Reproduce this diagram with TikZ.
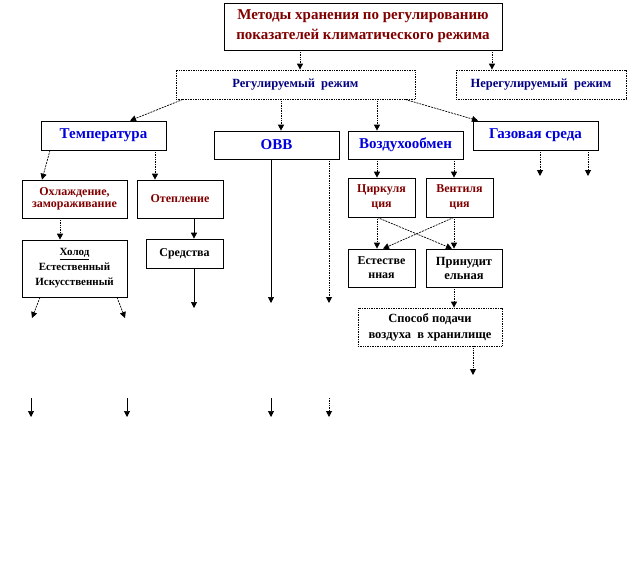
\documentclass[tikz,border=0pt]{standalone}
\usepackage{fontspec}
\setmainfont{Liberation Serif}
\usetikzlibrary{arrows.meta,calc}
\definecolor{dred}{RGB}{128,0,0}
\definecolor{dnavy}{RGB}{0,0,128}
\definecolor{tblue}{RGB}{0,0,220}
\newcommand\bx[7]{\node[box,#6,minimum width={(#4-#2)*1pt},minimum height={(#5-#3)*1pt}] (#1) at ({(#2+#4)/2},{(#3+#5)/2}) {#7};}
\tikzset{
  box/.style={draw,line width=0.7pt,inner sep=0pt,align=center,font=\bfseries\fontsize{12}{15}\selectfont},
  big/.style={font=\bfseries\fontsize{15}{20}\selectfont,text=tblue},
  dbox/.style={densely dotted,line width=0.8pt},
  conn/.style={line width=0.7pt,-{Triangle[length=6pt,width=6pt]}},
  dotc/.style={conn,densely dotted,line width=1pt},
  dashc/.style={conn,dash pattern=on 2pt off 1pt},
  solc/.style={conn}
}
\begin{document}
\begin{tikzpicture}[x=1pt,y=-1pt]
\useasboundingbox (0,0) rectangle (630,565);
\bx{top}{224}{3}{502}{50}{font=\bfseries\fontsize{15}{20}\selectfont,text=dred}{Методы хранения по регулированию\\показателей климатического режима}
\bx{reg}{176}{70}{415}{99}{dbox,text=dnavy,font=\bfseries\fontsize{12.5}{15}\selectfont}{Регулируемый\ \ режим}
\bx{nreg}{456}{70}{626}{99}{dbox,text=dnavy,font=\bfseries\fontsize{12.5}{15}\selectfont}{Нерегулируемый\ \ режим}
\bx{temp}{41}{121}{166}{150}{big}{Температура}
\bx{ovv}{214}{131}{339}{159}{big}{ОВВ}
\bx{vozd}{348}{131}{463}{159}{big}{Воздухообмен}
\bx{gaz}{473}{121}{598}{150}{big}{Газовая среда}
\bx{ohl}{22}{180}{127}{218}{text=dred,font=\bfseries\fontsize{12}{12.5}\selectfont}{Охлаждение,\\замораживание}
\bx{otep}{137}{180}{223}{218}{text=dred}{Отепление}
\bx{holod}{22}{240}{127}{297}{font=\bfseries\fontsize{11}{15}\selectfont}{\underline{Холод}\\Естественный\\Искусственный}
\bx{sred}{146}{239}{223}{268}{}{Средства}
\bx{cirk}{348}{178}{415}{217}{text=dred}{Циркуля\\ция}
\bx{vent}{426}{178}{493}{217}{text=dred}{Вентиля\\ция}
\bx{est}{348}{249}{415}{287}{font=\bfseries\fontsize{12}{14}\selectfont}{Естестве\\нная}
\bx{prin}{426}{249}{502}{287}{font=\bfseries\fontsize{12.5}{14}\selectfont}{Принудит\\ельная}
\bx{sposob}{358}{308}{502}{346}{dbox,font=\bfseries\fontsize{12.5}{16}\selectfont}{Способ подачи\\воздуха\ \ в хранилище}
% free ends
\coordinate (sredE) at (194,308);
\coordinate (ovvE1) at (271,303);
\coordinate (ovvE2) at (329,303);
\coordinate (holE1) at (32,318);
\coordinate (holE2) at (125,318);
\coordinate (gazE1) at (540,176);
\coordinate (gazE2) at (588,176);
\coordinate (spE) at (473,375);
\coordinate (b1s) at (31,398);  \coordinate (b1e) at (31,417);
\coordinate (b2s) at (127,398); \coordinate (b2e) at (127,417);
\coordinate (b3s) at (271,398); \coordinate (b3e) at (271,417);
\coordinate (b4s) at (329,398); \coordinate (b4e) at (329,417);
% connectors
\draw[dotc] (300,0 |- top.south) -- (300,0 |- reg.north);
\draw[dotc] (492,0 |- top.south) -- (492,0 |- nreg.north);
\draw[dashc] (183,0 |- reg.south) -- (130,0 |- temp.north);
\draw[dotc] (281,0 |- reg.south) -- (281,0 |- ovv.north);
\draw[dotc] (377,0 |- reg.south) -- (377,0 |- vozd.north);
\draw[dashc] (405,0 |- reg.south) -- (478,0 |- gaz.north);
\draw[dashc] (50,0 |- temp.south) -- (42,0 |- ohl.north);
\draw[dotc] (155,0 |- temp.south) -- (155,0 |- otep.north);
\draw[dotc] (60,0 |- ohl.south) -- (60,0 |- holod.north);
\draw[solc] (194,0 |- otep.south) -- (194,0 |- sred.north);
\draw[solc] (194,0 |- sred.south) -- (sredE);
\draw[solc] (271,0 |- ovv.south) -- (ovvE1);
\draw[dotc] (329,0 |- ovv.south) -- (ovvE2);
\draw[dashc] (40,0 |- holod.south) -- (holE1);
\draw[dashc] (117,0 |- holod.south) -- (holE2);
\draw[dotc] (540,0 |- gaz.south) -- (gazE1);
\draw[dotc] (588,0 |- gaz.south) -- (gazE2);
\draw[dotc] (377,0 |- vozd.south) -- (377,0 |- cirk.north);
\draw[dotc] (454,0 |- vozd.south) -- (454,0 |- vent.north);
\draw[dotc] (377,0 |- cirk.south) -- (377,0 |- est.north);
\draw[dashc] (377,0 |- cirk.south) -- (452,0 |- prin.north);
\draw[dotc] (454,0 |- vent.south) -- (454,0 |- prin.north);
\draw[dashc] (454,0 |- vent.south) -- (383,0 |- est.north);
\draw[dotc] (454,0 |- prin.south) -- (454,0 |- sposob.north);
\draw[dotc] (473,0 |- sposob.south) -- (spE);
\draw[solc] (b1s) -- (b1e);
\draw[solc] (b2s) -- (b2e);
\draw[solc] (b3s) -- (b3e);
\draw[dotc] (b4s) -- (b4e);
\end{tikzpicture}
\end{document}
